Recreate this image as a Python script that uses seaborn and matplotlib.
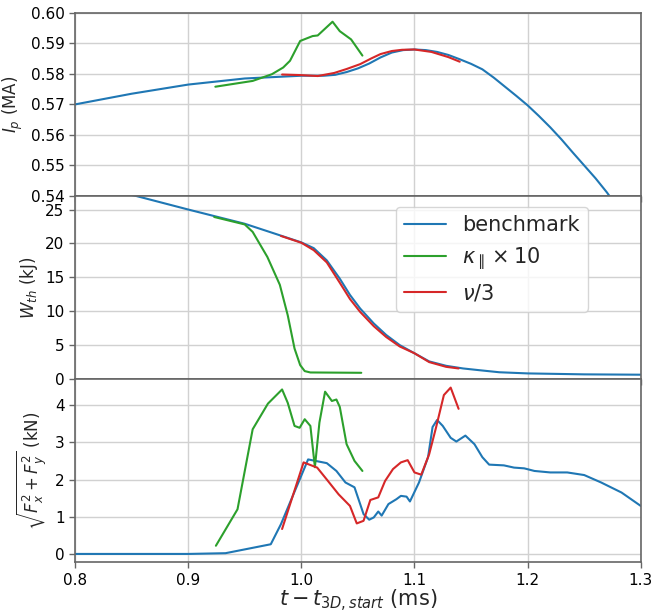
import numpy as np
import pandas as pd
import matplotlib
matplotlib.use("Agg")
import matplotlib.pyplot as plt
import seaborn as sns

# ---------------- data ----------------
# Plasma current Ip (MA)
ip_bench_t = [0.80, 0.85, 0.90, 0.95, 1.00, 1.02, 1.03, 1.04, 1.05, 1.06, 1.07, 1.08,
              1.09, 1.10, 1.11, 1.12, 1.13, 1.14, 1.15, 1.16, 1.17, 1.18, 1.19, 1.20,
              1.21, 1.22, 1.23, 1.24, 1.25, 1.26, 1.27, 1.28]
ip_bench = [0.5700, 0.5735, 0.5765, 0.5785, 0.5794, 0.5794, 0.5797, 0.5806, 0.5818,
            0.5834, 0.5854, 0.5870, 0.5878, 0.5880, 0.5878, 0.5872, 0.5862, 0.5848,
            0.5833, 0.5815, 0.5788, 0.5758, 0.5728, 0.5697, 0.5662, 0.5625, 0.5585,
            0.5542, 0.5500, 0.5458, 0.5412, 0.5360]
ip_kappa_t = [0.924, 0.957, 0.974, 0.984, 0.990, 0.999, 1.010, 1.0145, 1.0276, 1.034,
              1.044, 1.054]
ip_kappa = [0.5758, 0.5777, 0.5799, 0.5821, 0.5843, 0.5908, 0.5924, 0.5926, 0.5971,
            0.5940, 0.5913, 0.5860]
ip_nu_t = [0.983, 1.000, 1.0145, 1.029, 1.040, 1.052, 1.062, 1.070, 1.080, 1.089,
           1.100, 1.115, 1.130, 1.140]
ip_nu = [0.5798, 0.5796, 0.5793, 0.5803, 0.5816, 0.5832, 0.5851, 0.5865, 0.5875,
         0.5879, 0.5880, 0.5872, 0.5855, 0.5840]

# Thermal energy W_th (kJ)
w_bench_t = [0.80, 0.854, 0.90, 0.95, 0.981, 1.000, 1.011, 1.0225, 1.034, 1.043, 1.052,
             1.064, 1.075, 1.087, 1.100, 1.113, 1.128, 1.143, 1.157, 1.175, 1.200,
             1.250, 1.300]
w_bench = [29.0, 27.0, 25.0, 22.9, 21.2, 20.15, 19.3, 17.5, 14.8, 12.4, 10.4, 8.2, 6.5,
           5.0, 3.8, 2.6, 1.95, 1.56, 1.31, 1.0, 0.83, 0.69, 0.64]
w_kappa_t = [0.923, 0.950, 0.957, 0.970, 0.981, 0.988, 0.994, 0.999, 1.003, 1.008,
             1.053]
w_kappa = [23.9, 22.8, 21.7, 18.0, 13.9, 9.4, 4.5, 2.05, 1.17, 0.97, 0.92]
w_nu_t = [0.982, 1.000, 1.011, 1.0225, 1.034, 1.043, 1.052, 1.064, 1.075, 1.087, 1.100,
          1.113, 1.128, 1.139]
w_nu = [21.1, 20.1, 19.0, 17.2, 14.2, 11.8, 9.9, 7.8, 6.2, 4.8, 3.8, 2.5, 1.8, 1.56]

# Force sqrt(Fx^2 + Fy^2) (kN)
f_bench_t = [0.80, 0.90, 0.933, 0.973, 0.982, 0.993, 1.006, 1.0225, 1.031, 1.039, 1.047,
             1.055, 1.060, 1.064, 1.068, 1.071, 1.077, 1.084, 1.088, 1.093, 1.096,
             1.104, 1.112, 1.116, 1.120, 1.125, 1.132, 1.137, 1.145, 1.153, 1.160,
             1.166, 1.179, 1.188, 1.197, 1.206, 1.220, 1.235, 1.250, 1.265, 1.283, 1.300]
f_bench = [0.0, 0.0, 0.02, 0.26, 0.80, 1.60, 2.54, 2.44, 2.23, 1.92, 1.79, 1.07, 0.92,
           0.98, 1.14, 1.03, 1.34, 1.47, 1.56, 1.54, 1.41, 1.92, 2.60, 3.41, 3.60,
           3.44, 3.12, 3.02, 3.18, 2.95, 2.60, 2.40, 2.38, 2.32, 2.30, 2.23, 2.19,
           2.19, 2.12, 1.92, 1.65, 1.29]
f_kappa_t = [0.9245, 0.9436, 0.957, 0.9705, 0.983, 0.988, 0.994, 0.9985, 1.003, 1.008,
             1.012, 1.016, 1.021, 1.027, 1.031, 1.034, 1.040, 1.047, 1.054]
f_kappa = [0.22, 1.20, 3.35, 4.04, 4.42, 4.06, 3.44, 3.39, 3.62, 3.44, 2.33, 3.53, 4.36,
           4.11, 4.15, 3.95, 2.95, 2.50, 2.23]
f_nu_t = [0.983, 1.002, 1.014, 1.0225, 1.033, 1.043, 1.049, 1.055, 1.061, 1.068, 1.074,
          1.081, 1.088, 1.094, 1.100, 1.106, 1.113, 1.119, 1.126, 1.132, 1.139]
f_nu = [0.67, 2.46, 2.32, 2.00, 1.60, 1.29, 0.82, 0.89, 1.45, 1.52, 1.96, 2.28, 2.46,
        2.52, 2.19, 2.13, 2.68, 3.39, 4.27, 4.47, 3.90]

labels = ["benchmark", r"$\kappa_\parallel \times 10$", r"$\nu/3$"]
colors = ["#1f77b4", "#2ca02c", "#d62728"]

ip_ticks = [0.54, 0.55, 0.56, 0.57, 0.58, 0.59, 0.60]
w_ticks = [0, 5, 10, 15, 20, 25]
f_ticks = [0, 1, 2, 3, 4]
x_ticks = [0.8, 0.9, 1.0, 1.1, 1.2, 1.3]

# ---------------- style ----------------
sns.set_style("whitegrid", {"axes.edgecolor": "0.4", "grid.color": "0.82",
                            "xtick.bottom": True, "ytick.left": True})
plt.rcParams["font.family"] = ["DejaVu Sans"]
plt.rcParams["mathtext.fontset"] = "dejavusans"

fig, axes = plt.subplots(3, 1, sharex=True, figsize=(6.64, 6.13), dpi=100,
                         gridspec_kw={"hspace": 0})
fig.subplots_adjust(left=0.113, right=0.965, top=0.979, bottom=0.083)

panels = [
    (axes[0], [(ip_bench_t, ip_bench), (ip_kappa_t, ip_kappa), (ip_nu_t, ip_nu)]),
    (axes[1], [(w_bench_t, w_bench), (w_kappa_t, w_kappa), (w_nu_t, w_nu)]),
    (axes[2], [(f_bench_t, f_bench), (f_kappa_t, f_kappa), (f_nu_t, f_nu)]),
]

for ax, series in panels:
    for (t, v), c, lab in zip(series, colors, labels):
        df = pd.DataFrame({"t": t, "v": v})
        sns.lineplot(data=df, x="t", y="v", ax=ax, color=c, linewidth=1.5,
                     label=lab, legend=False, sort=False)
    ax.grid(True, linewidth=1.0)
    ax.tick_params(axis="both", labelsize=11, color="0.4", length=4, width=1,
                   labelcolor="black")
    for s in ax.spines.values():
        s.set_linewidth(1.2)
    ax.set_xlabel("")

ax0, ax1, ax2 = axes
ax0.set_ylim(0.54, 0.60)
ax0.set_yticks(ip_ticks)
ax0.set_yticklabels([f"{v:.2f}" for v in ip_ticks])
ax0.set_ylabel(r"$I_p$ (MA)", fontsize=12)

ax1.set_ylim(0, 27.0)
ax1.set_yticks(w_ticks)
ax1.set_ylabel(r"$W_{th}$ (kJ)", fontsize=12)

ax2.set_ylim(-0.22, 4.70)
ax2.set_yticks(f_ticks)
ax2.set_ylabel(r"$\sqrt{F_x^2 + F_y^2}$ (kN)", fontsize=12)

ax2.set_xlim(0.8, 1.3)
ax2.set_xticks(x_ticks)
ax2.set_xticklabels([f"{v:.1f}" for v in x_ticks])
ax2.set_xlabel(r"$t - t_{3D,start}$ (ms)", fontsize=15, labelpad=0)

handles, labs = ax1.get_legend_handles_labels()
ax1.legend(handles, labs, loc="upper left", bbox_to_anchor=(0.567, 0.94),
           borderaxespad=0, fontsize=15, frameon=True, framealpha=0.8,
           edgecolor="0.8", fancybox=True)

fig.savefig("out.png", dpi=100)
